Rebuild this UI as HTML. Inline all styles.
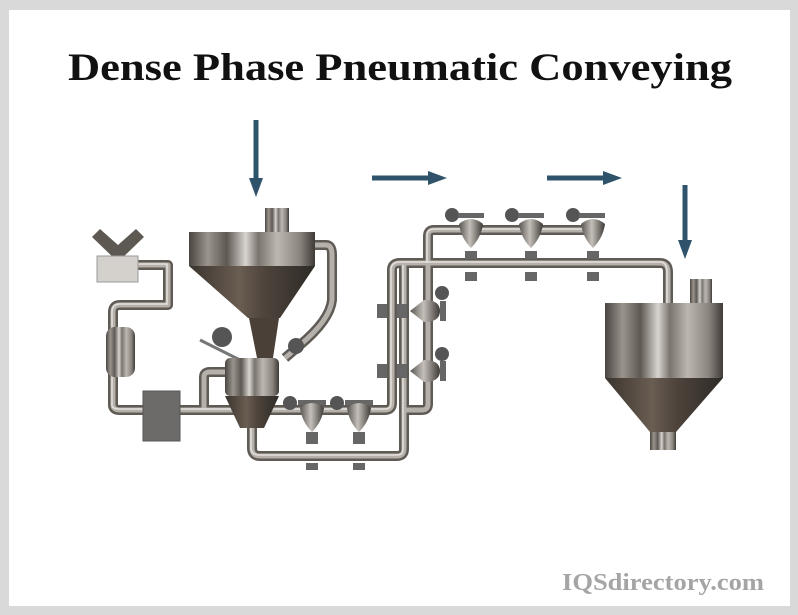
<!DOCTYPE html>
<html><head><style>
html,body{margin:0;padding:0;background:#d9d9d9;}
#w{position:relative;width:798px;height:615px;overflow:hidden;}
</style></head><body><div id="w">
<svg width="798" height="615" xmlns="http://www.w3.org/2000/svg">
<defs>
<linearGradient id="cyl" x1="0" x2="1" y1="0" y2="0">
<stop offset="0" stop-color="#4a4540"/><stop offset=".15" stop-color="#9a948d"/><stop offset=".3" stop-color="#5e5852"/><stop offset=".45" stop-color="#d8d4cf"/><stop offset=".55" stop-color="#7a746e"/><stop offset=".7" stop-color="#bcb7b1"/><stop offset=".88" stop-color="#8a847e"/><stop offset="1" stop-color="#3e3a36"/></linearGradient>
<linearGradient id="cone" x1="0" x2="1" y1="0" y2="0">
<stop offset="0" stop-color="#3a342e"/><stop offset=".4" stop-color="#6a5d52"/><stop offset=".6" stop-color="#4e443c"/><stop offset="1" stop-color="#2e2a26"/></linearGradient>
<linearGradient id="ball" x1="0" x2="1"><stop offset="0" stop-color="#5a5550"/><stop offset=".45" stop-color="#c4bfb9"/><stop offset="1" stop-color="#3e3a36"/></linearGradient>
</defs>
<rect x="9" y="10" width="781" height="596" fill="#fff"/>
<text x="400" y="80" text-anchor="middle" font-family="Liberation Serif, serif" font-weight="bold" font-size="39" textLength="664" lengthAdjust="spacingAndGlyphs" fill="#111">Dense Phase Pneumatic Conveying</text>
<text x="764" y="590" text-anchor="end" font-family="Liberation Serif, serif" font-weight="bold" font-size="24" textLength="202" lengthAdjust="spacingAndGlyphs" fill="#a5a5a5">IQSdirectory.com</text>

<g fill="#2f536b" stroke="#2f536b">
<line x1="256" y1="120" x2="256" y2="180" stroke-width="5"/><polygon points="249,178 263,178 256,197" stroke="none"/>
<line x1="372" y1="178" x2="430" y2="178" stroke-width="5"/><polygon points="428,171 428,185 447,178" stroke="none"/>
<line x1="547" y1="178" x2="605" y2="178" stroke-width="5"/><polygon points="603,171 603,185 622,178" stroke="none"/>
<line x1="685" y1="185" x2="685" y2="242" stroke-width="5"/><polygon points="678,240 692,240 685,259" stroke="none"/>
</g>

<g fill="none" stroke-linejoin="round" stroke-linecap="butt">
<g stroke="#5f5a54" stroke-width="10">
<path d="M135,265 H168 V305 H120 Q113,305 113,312 V405 Q113,410 120,410 H385 Q392,410 392,403 V270 Q392,263 400,263 H660 Q668,263 668,272 V303"/>
<path d="M252,428 V448 Q252,456 260,456 H397 Q404,456 404,449 V265"/>
<path d="M428,263 V236 Q428,230 434,230 H600"/>
<path d="M428,263 V404 Q428,410 422,410 H404"/>
<path d="M315,245 H326 Q332,245 332,255 V300 Q330,320 300,345 L285,358"/>
<path d="M204,410 V377 Q204,372 210,372 H228"/>
</g>
<g stroke="#b5b0aa" stroke-width="5">
<path d="M135,265 H168 V305 H120 Q113,305 113,312 V405 Q113,410 120,410 H385 Q392,410 392,403 V270 Q392,263 400,263 H660 Q668,263 668,272 V303"/>
<path d="M252,428 V448 Q252,456 260,456 H397 Q404,456 404,449 V265"/>
<path d="M428,263 V236 Q428,230 434,230 H600"/>
<path d="M428,263 V404 Q428,410 422,410 H404"/>
<path d="M315,245 H326 Q332,245 332,255 V300 Q330,320 300,345 L285,358"/>
<path d="M204,410 V377 Q204,372 210,372 H228"/>
</g>
<g stroke="#e4e1dd" stroke-width="1.5">
<path d="M135,264 H167 V304 H120 Q112,304 112,312 V405 Q112,409 120,409 H385 Q391,409 391,403 V270 Q391,262 400,262 H660 Q667,262 667,272 V303"/>
<path d="M251,428 V448 Q251,455 260,455 H397 Q403,455 403,449 V265"/>
<path d="M427,263 V236 Q427,229 434,229 H600"/>
</g>
</g>

<path d="M92,237 L100,229 L118,245 L136,229 L144,237 L118,262 Z" fill="#5e5852"/>
<rect x="97" y="256" width="41" height="26" fill="#d4d1cd" stroke="#999"/>
<rect x="106" y="327" width="29" height="50" rx="9" fill="url(#cyl)"/>
<rect x="143" y="391" width="37" height="50" fill="#6d6b69" stroke="#555"/>

<rect x="265" y="208" width="24" height="25" fill="url(#cyl)"/>
<rect x="189" y="232" width="126" height="34" fill="url(#cyl)"/>
<polygon points="189,266 315,266 280,318 248,318" fill="url(#cone)"/>
<polygon points="249,318 279,318 273,358 257,358" fill="#4a4038"/>
<line x1="200" y1="340" x2="240" y2="360" stroke="#777" stroke-width="3"/>
<circle cx="222" cy="337" r="10" fill="#555"/>
<circle cx="296" cy="346" r="8" fill="#555"/>
<rect x="225" y="358" width="54" height="38" rx="5" fill="url(#cyl)"/>
<polygon points="225,396 279,396 264,428 240,428" fill="url(#cone)"/>

<g>
<circle cx="290" cy="403" r="7" fill="#555"/><rect x="298" y="400" width="28" height="5" fill="#666"/>
<path d="M300,408 Q312,398 324,408 Q322,422 312,432 Q302,422 300,408Z" fill="url(#ball)"/>
<rect x="306" y="432" width="12" height="12" fill="#666"/><rect x="306" y="463" width="12" height="7" fill="#666"/>
<circle cx="337" cy="403" r="7" fill="#555"/><rect x="345" y="400" width="28" height="5" fill="#666"/>
<path d="M347,408 Q359,398 371,408 Q369,422 359,432 Q349,422 347,408Z" fill="url(#ball)"/>
<rect x="353" y="432" width="12" height="12" fill="#666"/><rect x="353" y="463" width="12" height="7" fill="#666"/>
</g>
<g>
<circle cx="442" cy="293" r="7" fill="#555"/>
<rect x="377" y="304" width="10" height="14" fill="#666"/><rect x="397" y="304" width="10" height="14" fill="#666"/>
<path d="M410,311 L424,300 Q440,300 440,311 Q440,322 424,322 Z" fill="url(#ball)"/><rect x="440" y="301" width="6" height="20" fill="#666"/>
<circle cx="442" cy="354" r="7" fill="#555"/>
<rect x="377" y="364" width="10" height="14" fill="#666"/><rect x="397" y="364" width="10" height="14" fill="#666"/>
<path d="M410,371 L424,360 Q440,360 440,371 Q440,382 424,382 Z" fill="url(#ball)"/><rect x="440" y="361" width="6" height="20" fill="#666"/>
</g>
<g>
<circle cx="452" cy="215" r="7" fill="#555"/><rect x="458" y="213" width="26" height="5" fill="#666"/>
<path d="M459,224 Q471,214 483,224 Q481,238 471,248 Q461,238 459,224Z" fill="url(#ball)"/>
<rect x="465" y="251" width="12" height="8" fill="#666"/><rect x="465" y="272" width="12" height="9" fill="#666"/>
<circle cx="512" cy="215" r="7" fill="#555"/><rect x="518" y="213" width="26" height="5" fill="#666"/>
<path d="M519,224 Q531,214 543,224 Q541,238 531,248 Q521,238 519,224Z" fill="url(#ball)"/>
<rect x="525" y="251" width="12" height="8" fill="#666"/><rect x="525" y="272" width="12" height="9" fill="#666"/>
<circle cx="573" cy="215" r="7" fill="#555"/><rect x="579" y="213" width="26" height="5" fill="#666"/>
<path d="M581,224 Q593,214 605,224 Q603,238 593,248 Q583,238 581,224Z" fill="url(#ball)"/>
<rect x="587" y="251" width="12" height="8" fill="#666"/><rect x="587" y="272" width="12" height="9" fill="#666"/>
</g>

<rect x="690" y="279" width="22" height="25" fill="url(#cyl)"/>
<rect x="605" y="303" width="118" height="75" fill="url(#cyl)"/>
<polygon points="605,378 723,378 676,432 650,432" fill="url(#cone)"/>
<rect x="650" y="432" width="26" height="18" fill="url(#cyl)"/>
</svg>
</div></body></html>
